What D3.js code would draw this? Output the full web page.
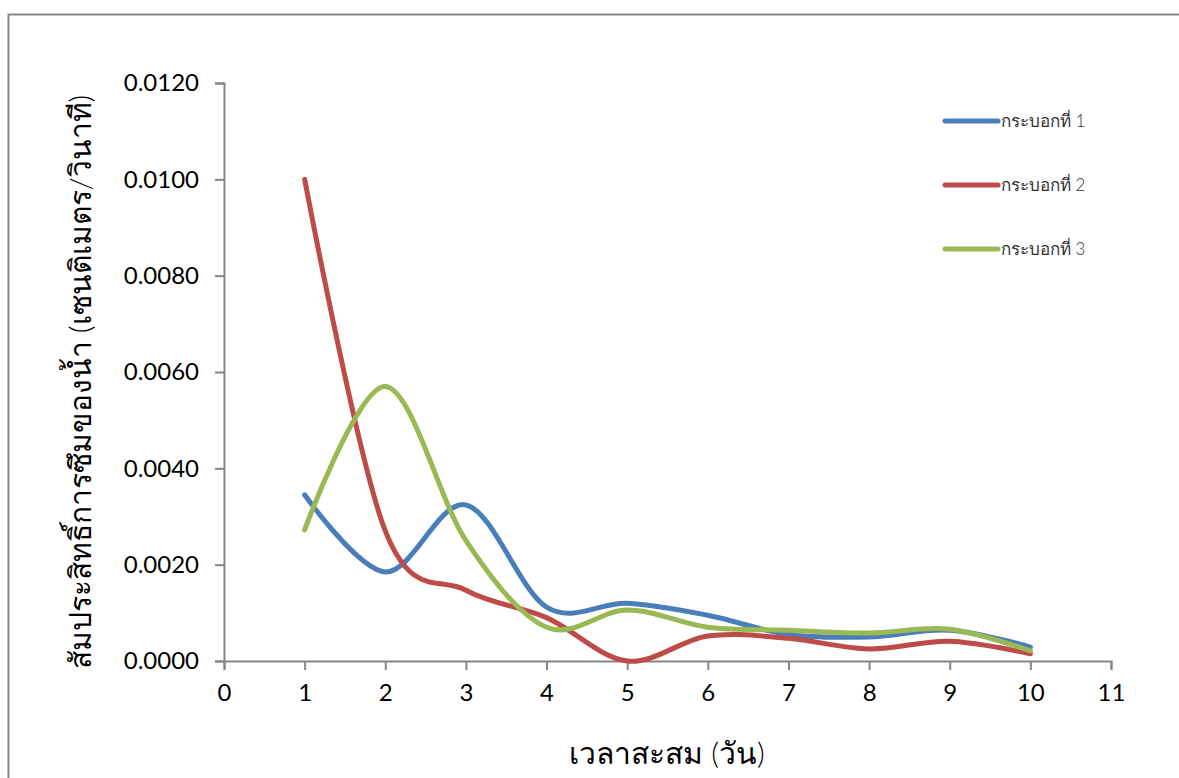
<!DOCTYPE html>
<html>
<head>
<meta charset="utf-8">
<script src="https://cdn.jsdelivr.net/npm/d3@7/dist/d3.min.js"></script>
<style>
  html, body { margin: 0; padding: 0; background: #fff; }
  svg { display: block; }
</style>
</head>
<body>
<div id="chart"></div>
<script>
const days = [1, 2, 3, 4, 5, 6, 7, 8, 9, 10];
const tube1 = [0.00345, 0.00185, 0.00324, 0.00112, 0.00120, 0.00095, 0.00055, 0.00050, 0.00064, 0.00029];
const tube2 = [0.01000, 0.00270, 0.00147, 0.00090, 0.00000, 0.00052, 0.00047, 0.00025, 0.00041, 0.00015];
const tube3 = [0.00272, 0.00570, 0.00250, 0.00070, 0.00106, 0.00070, 0.00064, 0.00058, 0.00066, 0.00021];
const seriesNames = ["กระบอกที่ 1", "กระบอกที่ 2", "กระบอกที่ 3"];
const seriesColors = ["#4A7EBB", "#BE4B48", "#98B954"];
const yTicks = [0, 0.002, 0.004, 0.006, 0.008, 0.010, 0.012];
const xTicks = [0, 1, 2, 3, 4, 5, 6, 7, 8, 9, 10, 11];

const W = 1179, H = 778;
const plotL = 224, plotR = 1111, plotT = 83, plotB = 661;
const font = "Lato, 'Noto Sans', 'DejaVu Sans', sans-serif";
const axisColor = "#868686";

const svg = d3.select("#chart").append("svg")
    .attr("width", W)
    .attr("height", H);

// outer chart frame (runs past right/bottom of the window)
svg.append("rect")
    .attr("x", 8.5).attr("y", 14.5)
    .attr("width", W + 20).attr("height", H + 20)
    .attr("fill", "none")
    .attr("stroke", axisColor)
    .attr("stroke-width", 2);

const x = d3.scaleLinear().domain([0, 11]).range([plotL, plotR]);
const y = d3.scaleLinear().domain([0, 0.012]).range([plotB, plotT]);

// y axis
const yAxis = svg.append("g")
    .attr("transform", `translate(${plotL},0)`)
    .call(d3.axisLeft(y).tickValues(yTicks).tickFormat(d3.format(".4f")).tickSize(9).tickPadding(16));

// x axis
const xAxis = svg.append("g")
    .attr("transform", `translate(0,${plotB})`)
    .call(d3.axisBottom(x).tickValues(xTicks).tickFormat(d3.format("d")).tickSize(9).tickPadding(14));

[yAxis, xAxis].forEach(g => {
    g.select(".domain").attr("stroke", axisColor).attr("stroke-width", 2);
    g.selectAll(".tick line").attr("stroke", axisColor).attr("stroke-width", 2);
    g.selectAll(".tick text")
        .attr("fill", "#000")
        .style("font-family", font)
        .style("font-size", "24px");
});

// lines
const line = d3.line()
    .x((d, i) => x(days[i]))
    .y(d => y(d))
    .curve(d3.curveCardinal.tension(0));

[tube1, tube2, tube3].forEach((vals, i) => {
    svg.append("path")
        .datum(vals)
        .attr("d", line)
        .attr("fill", "none")
        .attr("stroke", seriesColors[i])
        .attr("stroke-width", 5)
        .attr("stroke-linecap", "round")
        .attr("stroke-linejoin", "round");
});

// legend
const legend = svg.append("g");
seriesNames.forEach((name, i) => {
    const ly = 121 + i * 64;
    legend.append("line")
        .attr("x1", 945).attr("x2", 998)
        .attr("y1", ly).attr("y2", ly)
        .attr("stroke", seriesColors[i])
        .attr("stroke-width", 5)
        .attr("stroke-linecap", "round");
    legend.append("text")
        .attr("x", 1001).attr("y", ly + 6)
        .attr("fill", "#333")
        .style("font-family", font)
        .style("font-size", "17px")
        .style("font-weight", 300)
        .text(name);
});

// axis titles
svg.append("text")
    .attr("transform", `translate(91,${(plotT + plotB) / 2 + 10}) rotate(-90)`)
    .attr("text-anchor", "middle")
    .attr("fill", "#000")
    .style("font-family", font)
    .style("font-size", "30px")
    .style("font-weight", 300)
    .text("สัมประสิทธิ์การซึมของน้ำ (เซนติเมตร/วินาที)");

svg.append("text")
    .attr("x", 667).attr("y", 764)
    .attr("text-anchor", "middle")
    .attr("fill", "#000")
    .style("font-family", font)
    .style("font-size", "30px")
    .style("font-weight", 300)
    .text("เวลาสะสม (วัน)");
</script>
</body>
</html>
